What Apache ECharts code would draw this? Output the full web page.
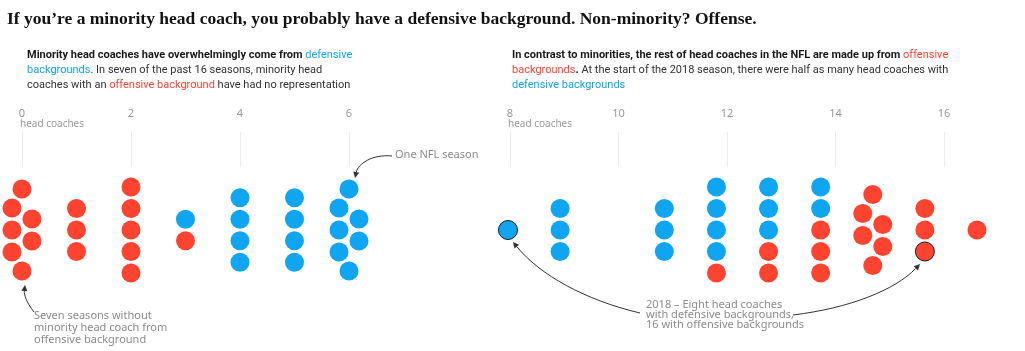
<!DOCTYPE html>
<html>
<head>
<meta charset="utf-8">
<script src="https://cdn.jsdelivr.net/npm/echarts@6/dist/echarts.min.js"></script>
<style>
  html, body { margin: 0; padding: 0; background: #fff; }
  #chart { width: 1025px; height: 351px; }
</style>
</head>
<body>
<div id="chart"></div>
<script>
// number of head coaches in a season -> how many seasons had that count
var minorityCoaches = [0, 1, 2, 3, 4, 5, 6];
var minorityDefensive = [0, 0, 0, 1, 4, 4, 7];
var minorityOffensive = [7, 3, 5, 1, 0, 0, 0];

var otherCoaches = [8, 9, 10, 11, 12, 13, 14, 15, 16, 17];
var otherDefensive = [1, 3, 0, 3, 4, 3, 2, 0, 0, 0];
var otherOffensive = [0, 0, 0, 0, 1, 2, 3, 6, 3, 1];

// 2018 season, highlighted with an outline
var season2018 = { defensive: 8, offensive: 16 };

var leftTicks = [0, 2, 4, 6];
var rightTicks = [8, 10, 12, 14, 16];

var BLUE = '#0fa5f0';
var RED = '#fe4330';
var GREY = '#8c8c8c';
var SANS = 'Noto Sans, sans-serif';
var TEXT = 'Roboto, sans-serif';

var chart = echarts.init(document.getElementById('chart'));

// simple packed column: stack up to 5, zigzag with caps above that
function columnOffsets(n) {
  var out = [], i;
  if (n <= 5) {
    for (i = 0; i < n; i++) out.push([0, (i - (n - 1) / 2) * 21.5]);
  } else {
    var m = n - 2, half = (m - 1) / 2 * 11;
    out.push([0, -(half + 19)]);
    for (i = 0; i < m; i++) out.push([i % 2 === 0 ? -10 : 10, (i - (m - 1) / 2) * 11]);
    out.push([0, half + 19]);
  }
  return out;
}

function buildDots(xs, def, off, hi) {
  var blue = [], red = [];
  for (var i = 0; i < xs.length; i++) {
    var offs = columnOffsets(def[i] + off[i]);
    var k = 0, j, item;
    for (j = 0; j < def[i]; j++) {
      item = { value: [xs[i], 0], symbolOffset: offs[k++] };
      if (hi && xs[i] === hi.defensive && j === def[i] - 1) item.itemStyle = { borderColor: '#1a1a1a', borderWidth: 1 };
      blue.push(item);
    }
    for (j = 0; j < off[i]; j++) {
      item = { value: [xs[i], 0], symbolOffset: offs[k++] };
      if (hi && xs[i] === hi.offensive && j === off[i] - 1) item.itemStyle = { borderColor: '#1a1a1a', borderWidth: 1 };
      red.push(item);
    }
  }
  return { blue: blue, red: red };
}

var leftDots = buildDots(minorityCoaches, minorityDefensive, minorityOffensive, null);
var rightDots = buildDots(otherCoaches, otherDefensive, otherOffensive, season2018);

function tickAxis(grid, ticks) {
  return {
    gridIndex: grid, type: 'value', position: 'top',
    min: ticks[0], max: ticks[ticks.length - 1], interval: 2,
    axisLine: { show: false }, axisTick: { show: false },
    axisLabel: { color: '#9a9a9a', fontSize: 11, fontFamily: SANS, margin: 13 },
    splitLine: { show: true, lineStyle: { color: '#ececec', width: 1 } }
  };
}
function dotAxis(grid, min, max) {
  return { gridIndex: grid, type: 'value', min: min, max: max, show: false, splitLine: { show: false } };
}
function hiddenY(grid) {
  return { gridIndex: grid, type: 'value', min: -1, max: 1, show: false, splitLine: { show: false } };
}

// curved annotation arrow
function arrow(p0, c1, c2, p1) {
  var ang = Math.atan2(p1[1] - c2[1], p1[0] - c2[0]);
  var L = 6, W = 3;
  var bx = p1[0] - L * Math.cos(ang), by = p1[1] - L * Math.sin(ang);
  var px = -Math.sin(ang) * W, py = Math.cos(ang) * W;
  return [
    { type: 'bezierCurve', silent: true,
      shape: { x1: p0[0], y1: p0[1], cpx1: c1[0], cpy1: c1[1], cpx2: c2[0], cpy2: c2[1], x2: bx, y2: by },
      style: { stroke: '#333', lineWidth: 1, fill: null } },
    { type: 'polygon', silent: true,
      shape: { points: [[p1[0], p1[1]], [bx + px, by + py], [bx - px, by - py]] },
      style: { fill: '#333' } }
  ];
}

var richText = {
  b: { fontWeight: 'bold', color: '#1a1a1a', fontSize: 11, fontFamily: TEXT, lineHeight: 15 },
  n: { fontWeight: 'normal', color: '#333', fontSize: 11, fontFamily: TEXT, lineHeight: 15 },
  blue: { fontWeight: 'normal', color: BLUE, fontSize: 11, fontFamily: TEXT, lineHeight: 15 },
  red: { fontWeight: 'normal', color: RED, fontSize: 11, fontFamily: TEXT, lineHeight: 15 }
};

function dotSeries(axis, color, data) {
  return {
    type: 'scatter', xAxisIndex: axis, yAxisIndex: axis, symbolSize: 19,
    itemStyle: { color: color, opacity: 1 }, emphasis: { disabled: true }, data: data
  };
}

chart.setOption({
  animation: false,
  title: [
    {
      text: 'If you\u2019re a minority head coach, you probably have a defensive background. Non-minority? Offense.',
      left: 2, top: 5,
      textStyle: { fontFamily: 'Liberation Serif, serif', fontWeight: 'bold', fontSize: 17.5, color: '#121212' }
    },
    {
      text: '{b|Minority head coaches have overwhelmingly come from }{blue|defensive}\n' +
            '{blue|backgrounds}{n|. In seven of the past 16 seasons, minority head}\n' +
            '{n|coaches with an }{red|offensive background}{n| have had no representation}',
      left: 22, top: 43,
      textStyle: { fontWeight: 'normal', rich: richText }
    },
    {
      text: '{b|In contrast to minorities, the rest of head coaches in the NFL are made up from }{red|offensive}\n' +
            '{red|backgrounds}{b|.}{n| At the start of the 2018 season, there were half as many head coaches with}\n' +
            '{blue|defensive backgrounds}',
      left: 507, top: 43,
      textStyle: { fontWeight: 'normal', rich: richText }
    }
  ],
  grid: [
    { left: 22, width: 327, top: 132, height: 35 },
    { left: 22, width: 327, top: 130, height: 200 },
    { left: 510, width: 434, top: 132, height: 35 },
    { left: 508, width: 469, top: 130, height: 200 }
  ],
  xAxis: [
    tickAxis(0, leftTicks),
    dotAxis(1, minorityCoaches[0], minorityCoaches[minorityCoaches.length - 1]),
    tickAxis(2, rightTicks),
    dotAxis(3, otherCoaches[0], otherCoaches[otherCoaches.length - 1])
  ],
  yAxis: [hiddenY(0), hiddenY(1), hiddenY(2), hiddenY(3)],
  series: [
    dotSeries(1, BLUE, leftDots.blue),
    dotSeries(1, RED, leftDots.red),
    dotSeries(3, BLUE, rightDots.blue),
    dotSeries(3, RED, rightDots.red)
  ],
  graphic: [
    { type: 'text', left: 20, top: 119, style: { text: 'head coaches', fill: '#9a9a9a', font: '10px ' + SANS } },
    { type: 'text', left: 508, top: 119, style: { text: 'head coaches', fill: '#9a9a9a', font: '10px ' + SANS } },
    { type: 'text', left: 395, top: 149, style: { text: 'One NFL season', fill: GREY, font: '11px ' + SANS } },
    { type: 'text', left: 34, top: 310, style: { text: 'Seven seasons without\nminority head coach from\noffensive background', fill: GREY, font: '11px ' + SANS, lineHeight: 12 } },
    { type: 'text', left: 646, top: 299, style: { text: '2018 \u2013 Eight head coaches\nwith defensive backgrounds,\n16 with offensive backgrounds', fill: GREY, font: '11px ' + SANS, lineHeight: 10 } }
  ]
    .concat(arrow([392, 156], [372, 154], [358, 164], [355, 178]))
    .concat(arrow([34, 312], [26, 302], [24, 294], [25, 285]))
    .concat(arrow([640, 313], [585, 300], [540, 275], [513, 242]))
    .concat(arrow([793, 315], [850, 308], [895, 290], [920, 264]))
});
</script>
</body>
</html>
